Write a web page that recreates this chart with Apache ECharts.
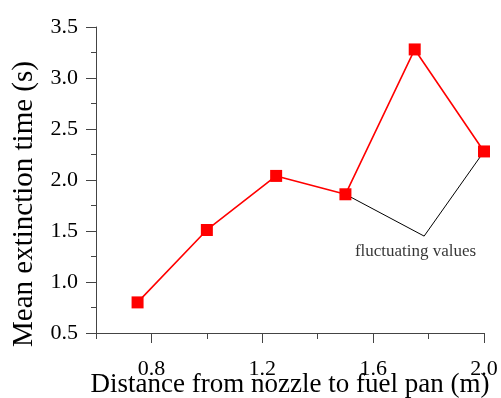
<!DOCTYPE html>
<html lang="en" style="height: 100%">
<head>
  <meta charset="utf-8">
</head>
<body style="height: 100%; margin: 0; background: #fff">
  <div id="container" style="width: 501px; height: 398px"></div>

  <script type="text/javascript" src="https://cdn.jsdelivr.net/npm/echarts@6/dist/echarts.min.js"></script>

  <script type="text/javascript">
    // distance from nozzle (m) vs mean extinction time (s)
    var distance = [0.75, 1.0, 1.25, 1.5, 1.75, 2.0];
    var extTime = [0.80, 1.51, 2.04, 1.86, 3.28, 2.28];
    // pointer lines to the two fluctuating points
    var noteLine = [[1.5, 1.86], [1.784, 1.45], [2.0, 2.28]];
    var noteAt = [1.753, 1.30];
    var noteText = 'fluctuating values';
    var xMajor = [0.8, 1.2, 1.6, 2.0];

    var font = 'Liberation Serif';
    var dom = document.getElementById('container');
    var myChart = echarts.init(dom, null, { renderer: 'canvas' });

    var option = {
      animation: false,
      grid: { left: 96, right: 17, top: 27, bottom: 65, outerBoundsMode: 'none', containLabel: false },
      xAxis: [
        {
          type: 'value',
          min: 0.6,
          max: 2.0,
          interval: 0.2,
          name: 'Distance from nozzle to fuel pan (m)',
          nameLocation: 'middle',
          nameGap: 38,
          nameMoveOverlap: false,
          nameTextStyle: { fontFamily: font, fontSize: 27, color: '#000' },
          axisLine: { lineStyle: { color: '#444', width: 1 } },
          axisTick: { show: true, customValues: xMajor, length: 10, lineStyle: { color: '#444' } },
          axisLabel: {
            margin: 25,
            showMinLabel: true,
            showMaxLabel: true,
            fontFamily: font, fontSize: 22, color: '#000',
            formatter: function (v) {
              var major = xMajor.some(function (m) { return Math.abs(m - v) < 1e-6; });
              return major ? v.toFixed(1) : '';
            }
          },
          splitLine: { show: false }
        },
        {
          type: 'value',
          position: 'bottom',
          min: 0.6,
          max: 2.0,
          interval: 0.2,
          axisLine: { show: false },
          axisTick: { show: true, length: 6, lineStyle: { color: '#444' } },
          axisLabel: { show: false },
          splitLine: { show: false }
        }
      ],
      yAxis: {
        type: 'value',
        min: 0.5,
        max: 3.5,
        interval: 0.5,
        name: 'Mean extinction time (s)',
        nameLocation: 'middle',
        nameGap: 57,
        nameMoveOverlap: false,
        nameTextStyle: { fontFamily: font, fontSize: 29, color: '#000', padding: [0, 48, 0, 0] },
        axisLine: { show: true, lineStyle: { color: '#444', width: 1 } },
        axisTick: { show: true, length: 10, lineStyle: { color: '#444' } },
        minorTick: { show: true, splitNumber: 2, length: 5, lineStyle: { color: '#444' } },
        axisLabel: {
          margin: 18,
          fontFamily: font, fontSize: 22, color: '#000',
          formatter: function (v) { return v.toFixed(1); }
        },
        splitLine: { show: false }
      },
      series: [
        {
          type: 'line',
          data: noteLine,
          symbol: 'none',
          lineStyle: { color: '#000', width: 1 },
          z: 1
        },
        {
          type: 'line',
          data: distance.map(function (d, i) { return [d, extTime[i]]; }),
          symbol: 'rect',
          symbolSize: 12,
          itemStyle: { color: '#ff0000' },
          lineStyle: { color: '#ff0000', width: 1.6 },
          z: 3
        },
        {
          type: 'scatter',
          data: [noteAt],
          symbolSize: 0,
          label: {
            show: true,
            position: 'inside',
            formatter: noteText,
            fontFamily: font, fontSize: 17, color: '#000'
          }
        }
      ]
    };

    myChart.setOption(option);
    window.addEventListener('resize', myChart.resize);
  </script>
</body>
</html>
